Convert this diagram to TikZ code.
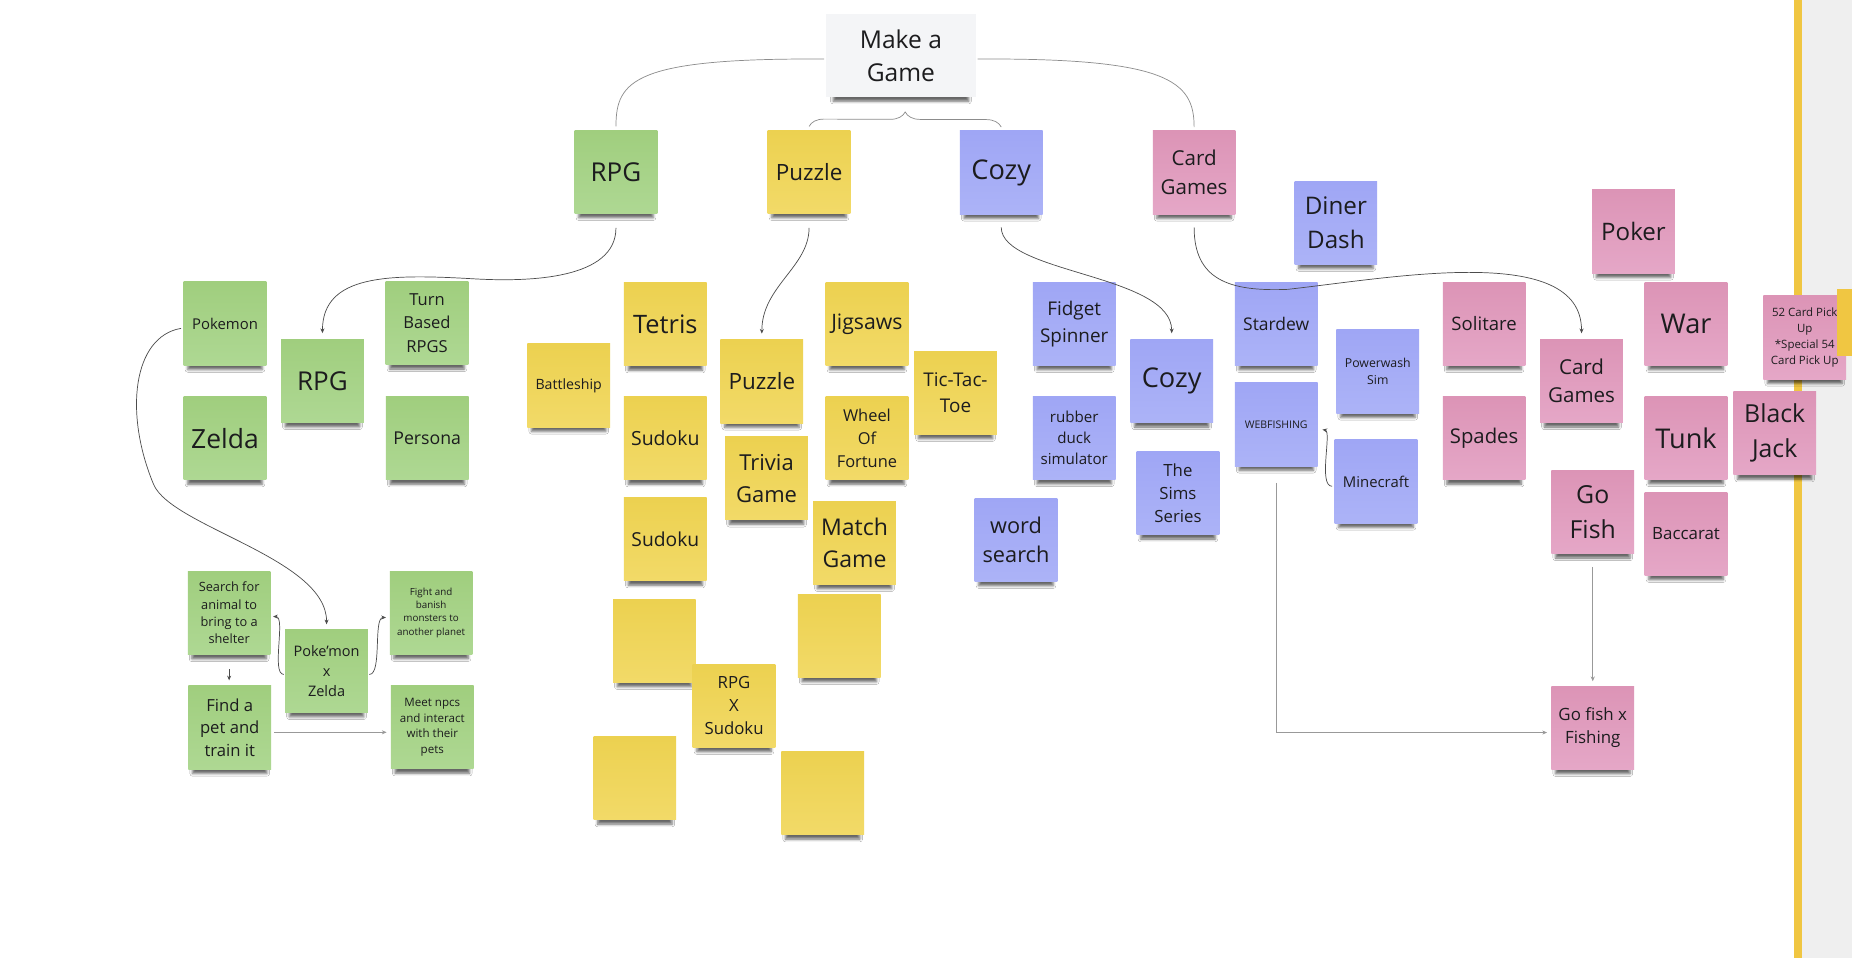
\documentclass[tikz,border=0pt]{standalone}
\usepackage{fontspec}
\setmainfont{Open Sans}
\usetikzlibrary{arrows.meta,calc,shadows.blur,decorations.pathreplacing}

\definecolor{verdeA}{RGB}{160,206,126}
\definecolor{verdeB}{RGB}{174,216,147}
\definecolor{gialloA}{RGB}{236,209,80}
\definecolor{gialloB}{RGB}{242,218,104}
\definecolor{bluA}{RGB}{159,166,245}
\definecolor{bluB}{RGB}{172,179,247}
\definecolor{rosaA}{RGB}{220,148,182}
\definecolor{rosaB}{RGB}{229,167,199}
\definecolor{titolo}{RGB}{244,245,247}
\definecolor{barra}{RGB}{240,198,66}
\definecolor{fondo}{RGB}{239,239,239}
\definecolor{testo}{RGB}{28,28,30}

\newcommand{\fs}[2]{\fontsize{#1}{#2}\selectfont}

\tikzset{
    nota/.style={minimum width=70pt, minimum height=70.5pt, inner sep=1pt, align=center, text=testo,
        blur shadow={shadow xshift=0pt, shadow yshift=-8pt, shadow scale=0.9, shadow blur radius=2.5pt, shadow opacity=60}},
    verde/.style={nota, top color=verdeA, bottom color=verdeB},
    giallo/.style={nota, top color=gialloA, bottom color=gialloB},
    blu/.style={nota, top color=bluA, bottom color=bluB},
    rosa/.style={nota, top color=rosaA, bottom color=rosaB},
    ramo/.style={draw=black!45, line width=0.6pt},
    freccia/.style={->, draw=black!70, line width=0.6pt},
    retta/.style={->, draw=black!40, line width=0.6pt}
}

\begin{document}
\begin{tikzpicture}[x=1pt, y=-1pt, >={Stealth[length=4pt, width=3.4pt]}]

    % Sfondo
    \path[use as bounding box, fill=white] (0,0) rectangle (1568,811);
    \fill[fondo] (1526,0) rectangle (1568,811);
    \fill[barra] (1519,0) rectangle (1526,811);

    % Titolo
    \node[nota, minimum width=127.5pt, minimum height=70pt, fill=titolo, font=\fs{20.8}{28.2}] (gioco) at (762.75,47) {Make a\\Game};

    % Categorie
    \node[verde, font=\fs{22}{28}] (rpg) at (521.5,145.5) {RPG};
    \node[giallo, font=\fs{19}{25}] (puzzle) at (685,145.5) {Puzzle};
    \node[blu, font=\fs{23}{30}] (cozy) at (847.7,146) {Cozy};
    \node[rosa, font=\fs{17.4}{24}] (carte) at (1011,146) {Card\\Games};

    % RPG
    \node[verde, font=\fs{12.6}{17}] (pokemon) at (190.5,274) {Pokemon};
    \node[verde, font=\fs{22}{28}] (rpg2) at (273,322.5) {RPG};
    \node[verde, font=\fs{14}{19.7}] (turni) at (361.5,273.5) {Turn\\Based\\RPGS};
    \node[verde, font=\fs{22.4}{28}] (zelda) at (190.5,371) {Zelda};
    \node[verde, font=\fs{15}{20}] (persona) at (361.7,371) {Persona};

    % Poke'mon x Zelda
    \node[verde, font=\fs{10.8}{14.7}] (cerca) at (194,519) {Search for\\animal to\\bring to a\\shelter};
    \node[verde, font=\fs{12.3}{16.7}] (pxz) at (276.5,568) {Poke'mon\\x\\Zelda};
    \node[verde, font=\fs{8.3}{11.3}] (lotta) at (365,518.8) {Fight and\\banish\\monsters to\\another planet};
    \node[verde, font=\fs{14.1}{19.2}] (trova) at (194.5,616) {Find a\\pet and\\train it};
    \node[verde, font=\fs{9.8}{13.3}] (incontra) at (366,615.8) {Meet npcs\\and interact\\with their\\pets};

    % Puzzle
    \node[giallo, font=\fs{21.5}{28}] (tetris) at (563.3,274.5) {Tetris};
    \node[giallo, font=\fs{12}{16}] (battaglia) at (481.5,326.3) {Battleship};
    \node[giallo, font=\fs{16.5}{22}] (sudoku) at (563.3,371) {Sudoku};
    \node[giallo, font=\fs{19}{25}] (puzzle2) at (645,322.9) {Puzzle};
    \node[giallo, font=\fs{18}{24}] (jigsaw) at (734,274.2) {Jigsaws};
    \node[giallo, font=\fs{16}{22.6}] (tris) at (809,332.5) {Tic-Tac-\\Toe};
    \node[giallo, font=\fs{13.9}{19.7}] (ruota) at (734,371) {Wheel\\Of\\Fortune};
    \node[giallo, font=\fs{18.6}{27}] (trivia) at (649,405) {Trivia\\Game};
    \node[giallo, font=\fs{16.3}{22}] (sudoku2) at (563.3,456.5) {Sudoku};
    \node[giallo, font=\fs{19.5}{27}] (coppie) at (723.5,459.6) {Match\\Game};
    \foreach \p [count=\i] in {(554,542.5),(710.5,538.3),(537.5,658.8),(696.5,671.5)}
        \node[giallo] (vuoto\i) at \p {};
    \node[giallo, font=\fs{14.2}{19.5}] (rxs) at (621.5,597.5) {RPG\\X\\Sudoku};

    % Cozy
    \node[blu, font=\fs{20.5}{28.5}] (diner) at (1131,188.5) {Diner\\Dash};
    \node[blu, font=\fs{16}{22.6}] (fidget) at (909.5,274.2) {Fidget\\Spinner};
    \node[blu, font=\fs{23}{30}] (cozy2) at (992,322.6) {Cozy};
    \node[blu, font=\fs{14.8}{20}] (stardew) at (1080.5,274.2) {Stardew};
    \node[blu, font=\fs{10.4}{14.4}] (powerwash) at (1166.5,314.5) {Powerwash\\Sim};
    \node[blu, font=\fs{8.9}{12}] (webfishing) at (1080.5,359.3) {WEBFISHING};
    \node[blu, font=\fs{12.8}{17.8}] (papera) at (909.5,370.8) {rubber\\duck\\simulator};
    \node[blu, font=\fs{14.2}{19.2}] (sims) at (997.3,417.5) {The\\Sims\\Series};
    \node[blu, font=\fs{12.6}{17}] (minecraft) at (1165,407.7) {Minecraft};
    \node[blu, font=\fs{18.4}{24.5}] (parole) at (860.2,457) {word\\search};

    % Card Games
    \node[rosa, font=\fs{20.4}{27}] (poker) at (1383,196) {Poker};
    \node[rosa, font=\fs{15.7}{21}] (solitario) at (1256.5,274.2) {Solitare};
    \node[rosa, font=\fs{23}{30}] (guerra) at (1427.5,274.2) {War};
    \node[rosa, font=\fs{17.4}{24}] (carte2) at (1339,322.6) {Card\\Games};
    \node[rosa, font=\fs{17.2}{23}] (picche) at (1256.5,371) {Spades};
    \node[rosa, font=\fs{23}{30}] (tunk) at (1427.5,370.8) {Tunk};
    \node[rosa, font=\fs{21}{29.6}] (bj) at (1502.5,366.8) {Black\\Jack};
    \node[rosa, font=\fs{21}{29}] (gofish) at (1348.5,433.5) {Go\\Fish};
    \node[rosa, font=\fs{14.3}{19}] (baccarat) at (1427.5,451.9) {Baccarat};
    \node[rosa, font=\fs{9.7}{13.5}] (carte52) at (1528,285.8) {52 Card Pick\\Up\\*Special 54\\Card Pick Up};
    \node[rosa, font=\fs{14.3}{19.7}] (gfx) at (1348.5,616.2) {Go fish x\\Fishing};
    \fill[barra] (1555,244.7) rectangle (1568,301);

    % Rami dal titolo
    \draw[ramo, shorten <=1pt, shorten >=3pt] ($(gioco.west)+(0,3)$) .. controls +(-162,-1) and +(0,-42) .. (rpg.north);
    \draw[ramo, shorten <=1pt, shorten >=3pt] ($(gioco.east)+(0,3)$) .. controls +(162,-1) and +(0,-42) .. (carte.north);
    \draw[ramo, decorate, decoration={brace, amplitude=12.5pt}] ($(puzzle.north)+(0,-3)$) -- ($(cozy.north)+(0,-3)$);

    % Frecce verso i gruppi
    \draw[freccia, shorten <=12pt, shorten >=5pt] (rpg.south) .. controls +(0,55) and +(50,3) .. (400,236)
        .. controls +(-70,-4) and +(0,-55) .. (rpg2.north);
    \draw[freccia, shorten <=12pt, shorten >=5pt] (puzzle.south) .. controls +(0,45) and +(0,-45) .. (puzzle2.north);
    \draw[freccia, shorten <=11pt, shorten >=5pt] (cozy.south) .. controls +(0,50) and +(0,-55) .. (cozy2.north);
    \draw[freccia, shorten <=11pt, shorten >=5pt] (carte.south) .. controls +(0,55) and +(-50,2) .. (1090,245)
        .. controls +(90,-10) and +(0,-82) .. (carte2.north);

    % Poke'mon x Zelda
    \draw[freccia, shorten >=4pt] ($(pokemon.west)+(-2,4)$) .. controls +(-41,7) and +(-25,-60) .. (130,410)
        .. controls +(15,36) and +(0,-60) .. (pxz.north);
    \draw[freccia] ($(pxz.west)+(-1,3)$) .. controls +(-11,0) and +(11,0) .. ($(cerca.east)+(2,3)$);
    \draw[freccia] ($(pxz.east)+(1,3)$) .. controls +(11,0) and +(-11,0) .. ($(lotta.west)+(-3,4)$);
    \draw[freccia, shorten <=12pt, shorten >=4.5pt] (cerca.south) -- (cerca.south |- trova.north);
    \draw[retta] ($(trova.east)+(2.5,4)$) -- ($(incontra.west)+(-3.5,4.2)$);

    % Fishing
    \draw[freccia, shorten >=2pt] ($(minecraft.west)+(-2,4)$) .. controls +(-12,0) and +(10,2) .. ($(webfishing.east)+(2,4)$);
    \draw[retta, shorten <=14pt, shorten >=3.5pt] (webfishing.south) |- ($(gfx.west)+(0,4)$);
    \draw[retta, shorten <=11pt, shorten >=4pt] (gofish.south) -- (gfx.north);

\end{tikzpicture}
\end{document}
